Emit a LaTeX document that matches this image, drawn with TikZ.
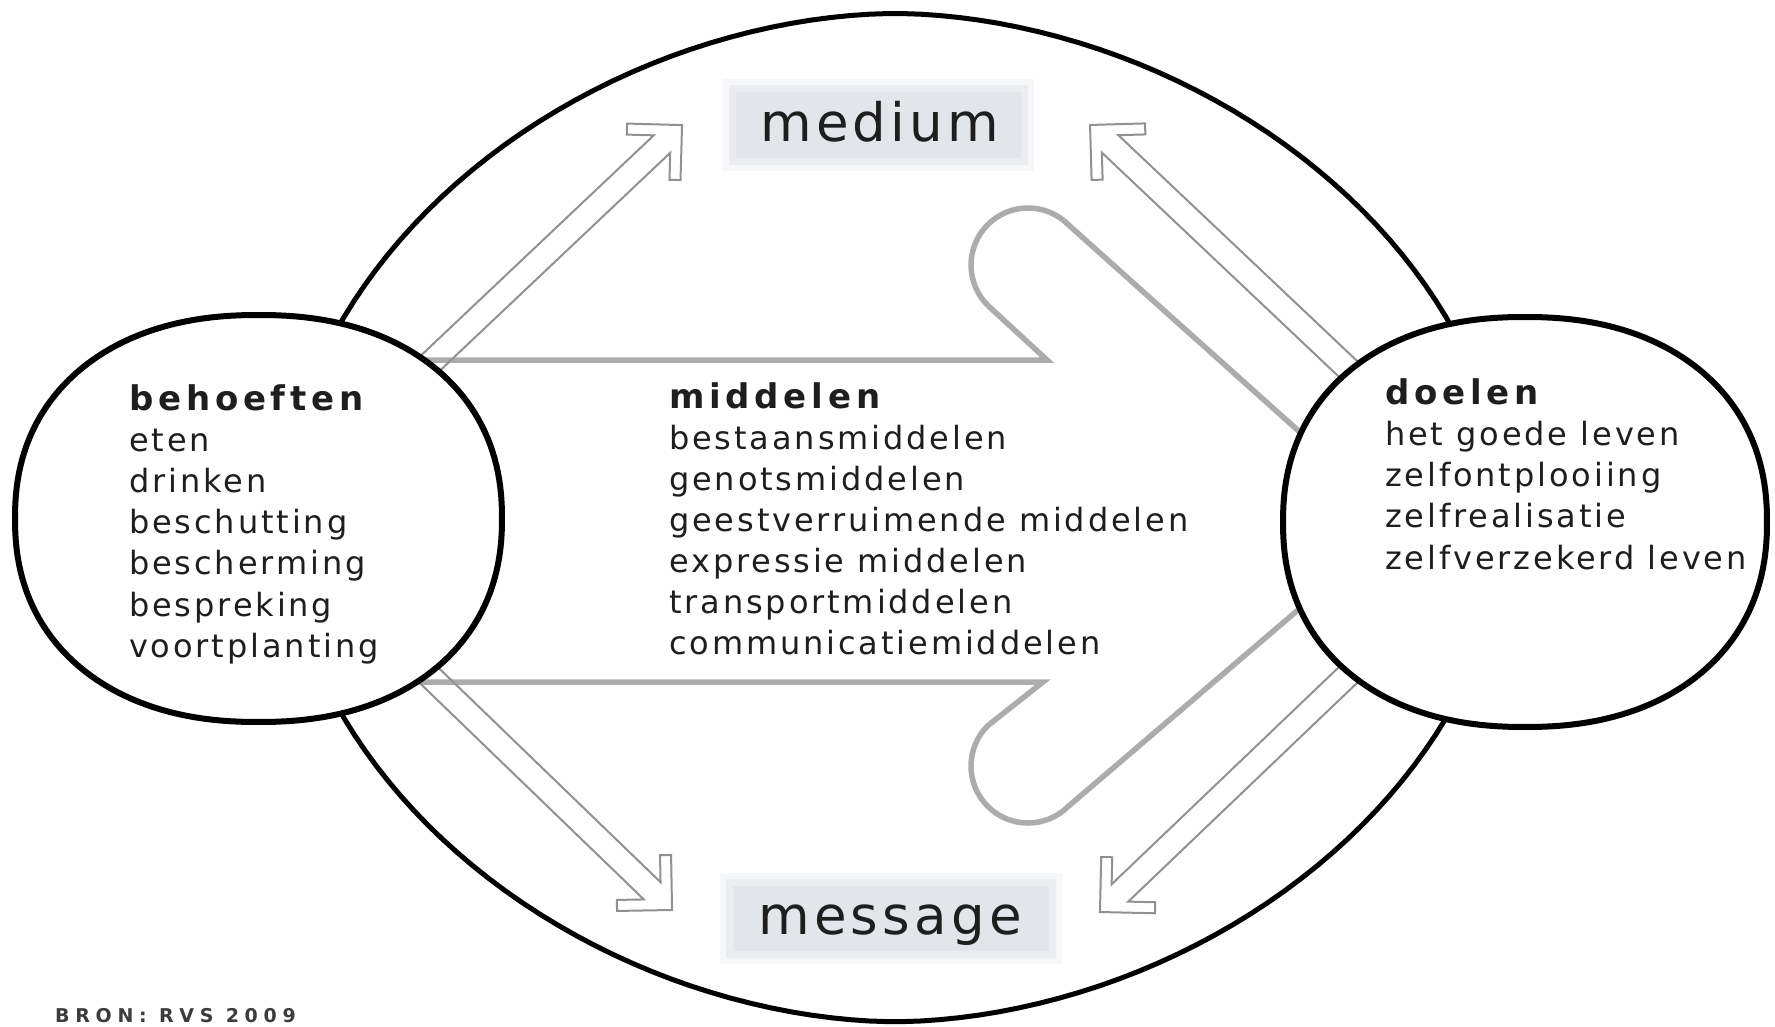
\documentclass[tikz,border=0pt]{standalone}
\usepackage{fontspec}
\setmainfont{DejaVu Sans}
\newfontfamily\regf{DejaVu Sans}[LetterSpace=9]
\newfontfamily\headf{DejaVu Sans}[LetterSpace=14]
\newfontfamily\bigf{DejaVu Sans}[LetterSpace=8]
\newfontfamily\srcf{DejaVu Sans}[LetterSpace=30]
\definecolor{ink}{RGB}{30,30,30}
\definecolor{arrowgray}{RGB}{172,172,172}
\definecolor{dblgray}{RGB}{145,145,145}
\definecolor{boxgray}{RGB}{226,229,234}
\newcommand{\superell}[6]{%
  \draw[#1] plot[domain=1:361,samples=181] ({#2+#4*cos(\x)*pow(abs(cos(\x)),#6-1)},{#3+#5*sin(\x)*pow(abs(sin(\x)),#6-1)}) -- cycle;}
\newcommand{\hollow}[4]{%
  \begin{scope}[shift={(#1,#2)},rotate=#3]
    \draw[dbl] (0,12) -- ({#4-27.6},12) -- ({#4-46.7},31.1) -- ({#4-38.9},38.9) -- (#4,0)
      -- ({#4-38.9},-38.9) -- ({#4-46.7},-31.1) -- ({#4-27.6},-12) -- (0,-12);
  \end{scope}}
\tikzset{
  outerline/.style={line width=5pt, black},
  circline/.style={line width=6pt, black, fill=white},
  bigarr/.style={line width=5.5pt, arrowgray, line join=miter},
  dbl/.style={line width=2pt, dblgray, line join=miter},
  tx/.style={anchor=base west, inner sep=0pt, text=ink, font=\regf\fontsize{32}{38}\selectfont},
  hd/.style={anchor=base west, inner sep=0pt, text=ink, font=\headf\bfseries\fontsize{34}{40}\selectfont},
  big/.style={anchor=base west, inner sep=0pt, text=ink, font=\bigf\fontsize{53}{60}\selectfont},
  src/.style={anchor=base west, inner sep=0pt, text={rgb,255:red,60;green,60;blue,60}, font=\srcf\bfseries\fontsize{19}{21}\selectfont}
}
\begin{document}
\begin{tikzpicture}[x=1pt,y=1pt]
\useasboundingbox (0,0) rectangle (1775,-1027);
\fill[white] (0,0) rectangle (1775,-1027);
% label boxes (soft edges)
\fill[boxgray,opacity=.3] (723,-79) rectangle (1034,-171);
\fill[boxgray,opacity=.5] (729,-85) rectangle (1028,-165);
\fill[boxgray] (736,-92) rectangle (1021,-158);
\fill[boxgray,opacity=.3] (720,-873) rectangle (1062,-964);
\fill[boxgray,opacity=.5] (726,-879) rectangle (1056,-958);
\fill[boxgray] (733,-886) rectangle (1049,-951);
% big outer shape
\superell{outerline}{895}{-517.6}{612}{504}{1.07}
% big grey arrow
\draw[bigarr] (395,-360) -- (1047,-360) -- (987.7,-305.3)
   arc[start angle=225,end angle=45,radius=57] -- (1312,-443);
\draw[bigarr] (390,-682) -- (1043,-682) -- (987.7,-725.7)
   arc[start angle=135,end angle=315,radius=57] -- (1312,-598);
% hollow arrows
\hollow{412.5}{-380}{43.4}{371}
\hollow{1373.4}{-392.9}{136.6}{390}
\hollow{413.8}{-660.6}{-44}{359}
\hollow{1375.4}{-648.8}{223.7}{381}
% circles
\superell{circline}{258.5}{-518.5}{243.5}{203.5}{0.9}
\superell{circline}{1525}{-522}{242}{205}{0.9}
% texts
\node[big] (medium) at (760,-142) {medium};
\node[big] (message) at (758,-934) {message};
\node[hd] (beh) at (129,-410) {behoeften};
\foreach \t [count=\i] in {eten,drinken,beschutting,bescherming,bespreking,voortplanting}
  \node[tx] (beh\i) at (129,{-410-41.2*\i}) {\t};
\node[hd] (mid) at (669,-408) {middelen};
\foreach \t [count=\i] in {bestaansmiddelen,genotsmiddelen,geestverruimende middelen,expressie middelen,transportmiddelen,communicatiemiddelen}
  \node[tx] (mid\i) at (669,{-408-41.1*\i}) {\t};
\node[hd] (doel) at (1385,-404) {doelen};
\foreach \t [count=\i] in {het goede leven,zelfontplooiing,zelfrealisatie,zelfverzekerd leven}
  \node[tx] (doel\i) at (1385,{-404-41.25*\i}) {\t};
\node[src] (bron) at (55,-1022) {BRON: RVS 2009};
\end{tikzpicture}
\end{document}
